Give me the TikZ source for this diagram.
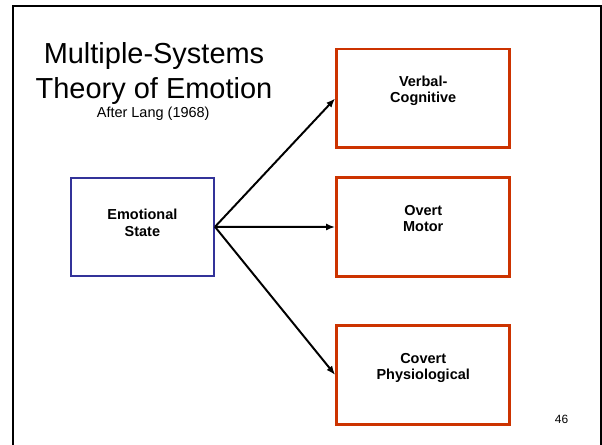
\documentclass[tikz,border=0pt]{standalone}
\usepackage{fontspec}
\setmainfont{Liberation Sans}
\usetikzlibrary{arrows.meta}

\definecolor{b}{RGB}{51,51,153}
\definecolor{r}{RGB}{204,51,0}

\begin{document}
\begin{tikzpicture}[
        state/.style={rectangle, draw=b, line width=1.4pt, minimum width=3.58cm, minimum height=2.46cm},
        resp/.style={rectangle, draw=r, line width=2pt, minimum width=4.33cm, minimum height=2.47cm},
        txt/.style={align=center, inner sep=0, font=\fontsize{10.3}{11.9}\selectfont\bfseries},
        arr/.style={-{Latex[length=6.5pt,width=5pt]}, line width=1.4pt},
    ]

    \useasboundingbox (0,0) rectangle (15.05,-11.125);
    \draw[line width=1.4pt] (0.325,-11.3) -- (0.325,-0.15) -- (15.017,-0.15) -- (15.017,-11.3);

    \node[align=center, anchor=north, inner sep=0, font=\fontsize{20.6}{24.9}\selectfont] (title) at (3.85,-1.05) {Multiple-Systems\\Theory of Emotion};
    \node[anchor=base, inner sep=0, font=\fontsize{10.3}{12}\selectfont] (after) at (3.83,-2.95) {After Lang (1968)};

    \node[state] (es) at (3.56,-5.67) {};
    \node[txt] (est) at ([yshift=0.1cm]es.center) {Emotional\\State};

    \node[resp] (vc) at (10.58,-2.46) {};
    \node[txt] (vct) at ([yshift=0.19cm]vc.center) {Verbal-\\Cognitive};

    \node[resp] (om) at (10.58,-5.675) {};
    \node[txt] (omt) at ([yshift=0.21cm]om.center) {Overt\\Motor};

    \node[resp] (cp) at (10.58,-9.375) {};
    \node[txt] (cpt) at ([yshift=0.175cm]cp.center) {Covert\\Physiological};

    \path
    (es.east) edge[arr] (vc.west)
    (es.east) edge[arr] (om.west)
    (es.east) edge[arr] (cp.west)
    ;

    \node[anchor=base, inner sep=0, font=\fontsize{8.5}{10}\selectfont] (page) at (14.04,-10.58) {46};
\end{tikzpicture}
\end{document}
